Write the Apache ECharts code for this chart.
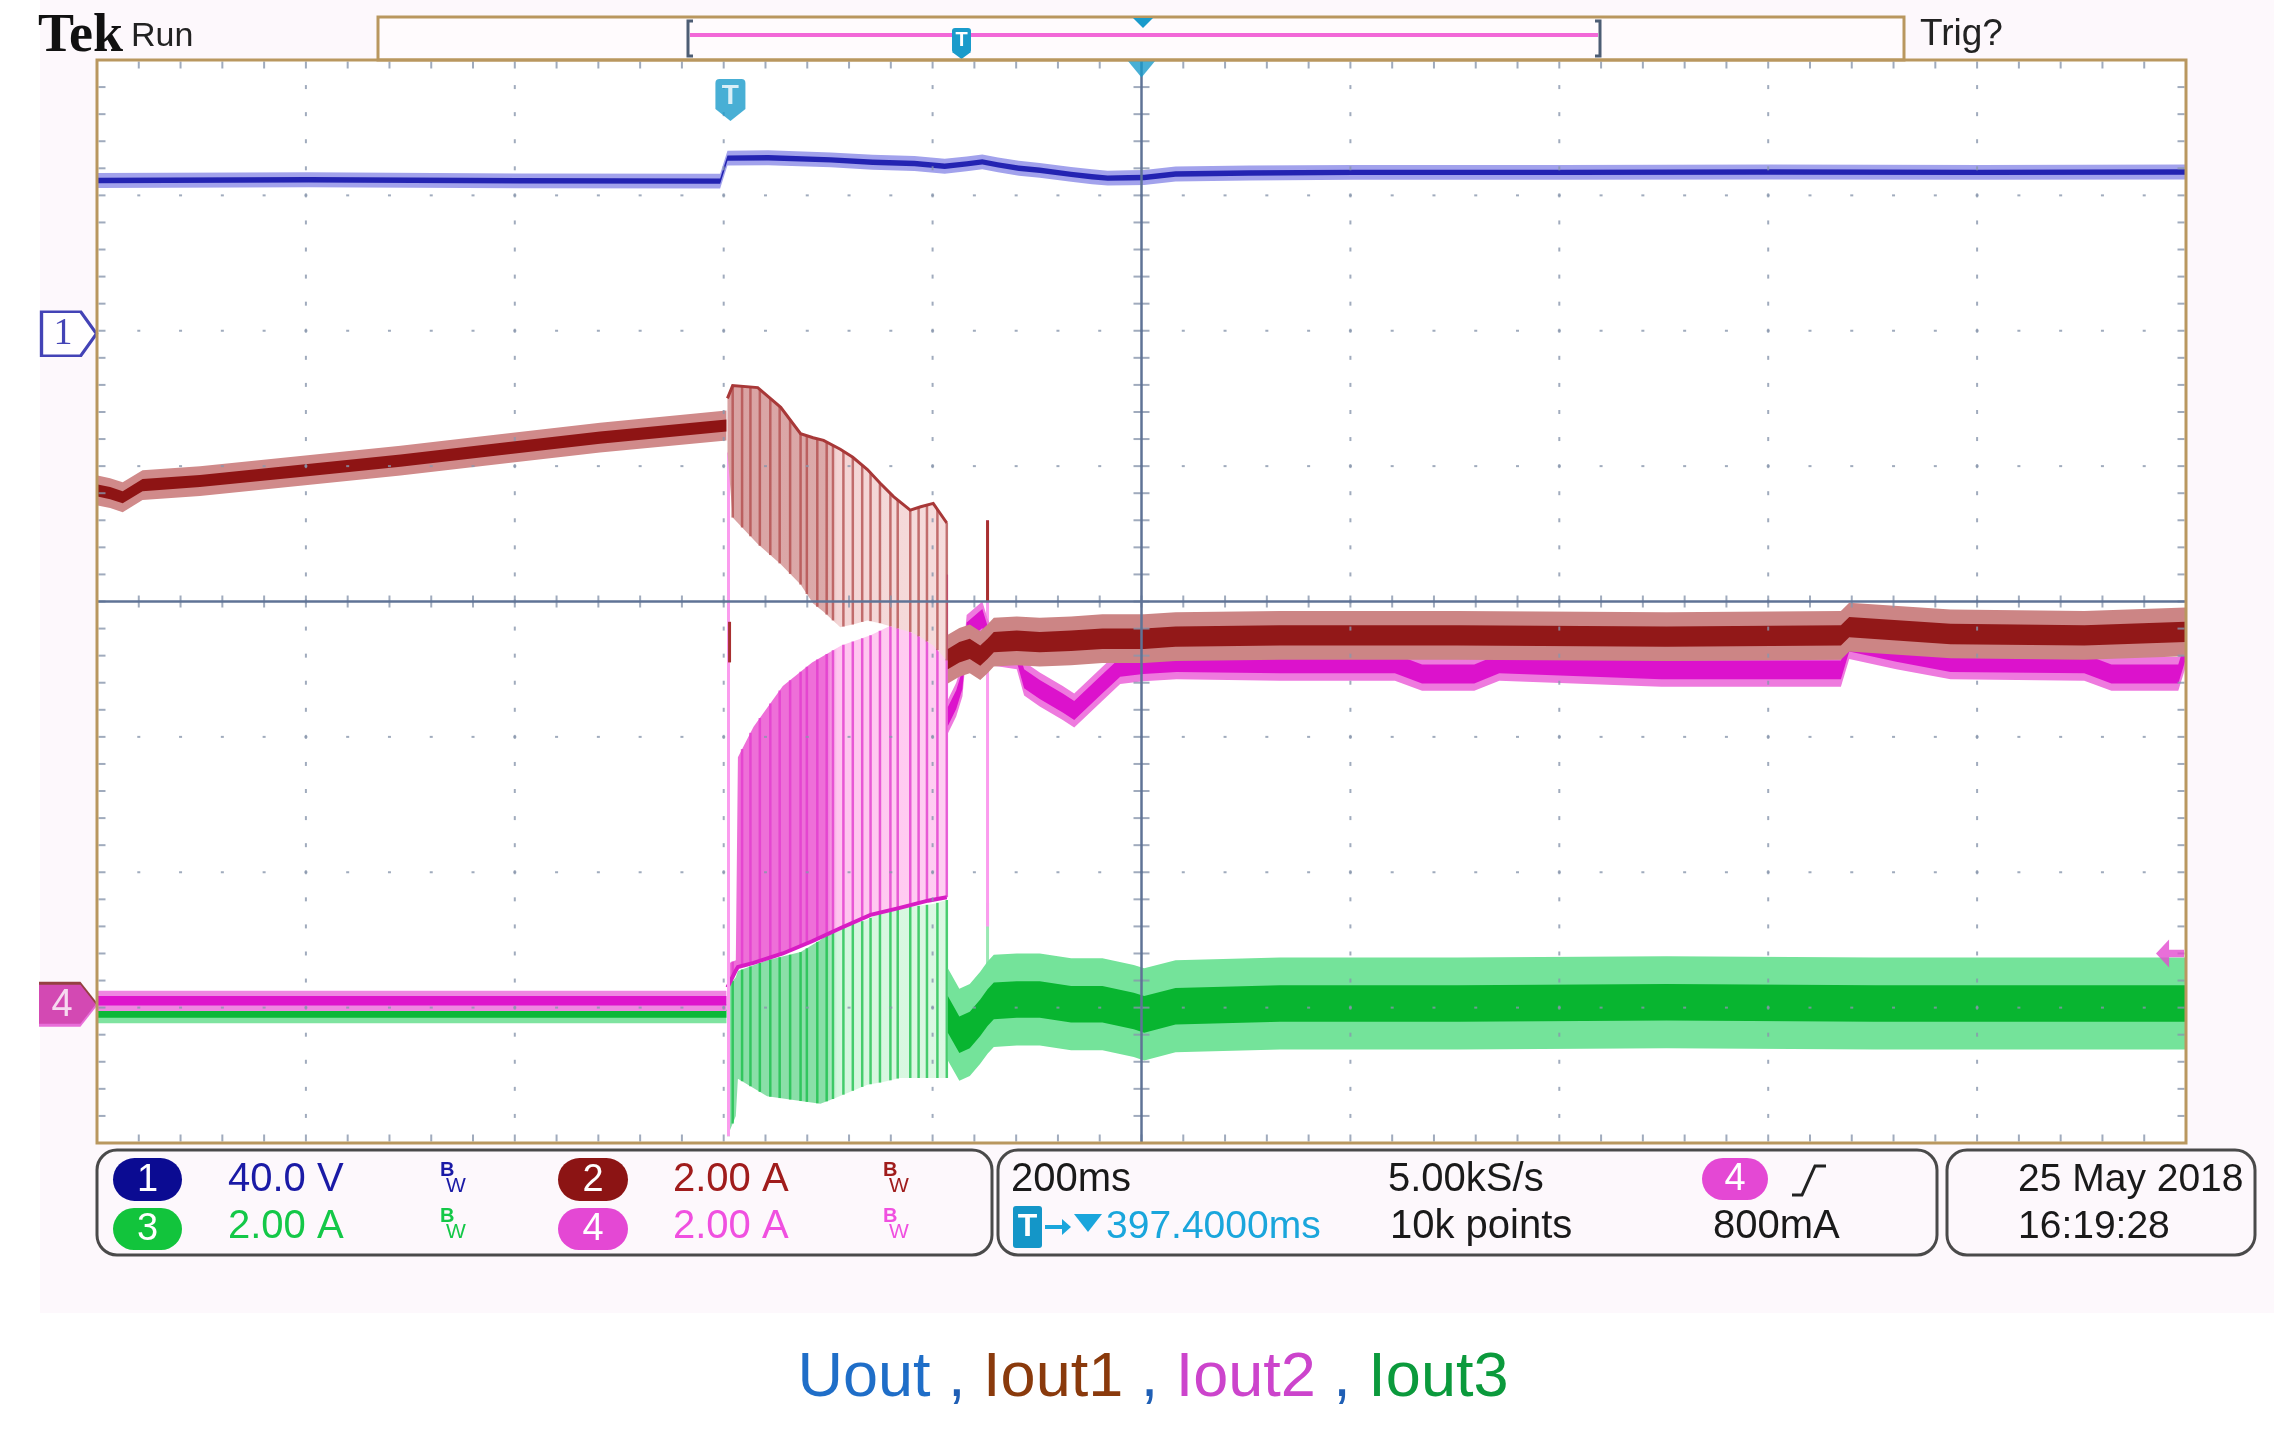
<!DOCTYPE html>
<html><head><meta charset="utf-8">
<script src="https://cdn.jsdelivr.net/npm/echarts@6/dist/echarts.min.js"></script>
<style>html,body{margin:0;padding:0;background:#fff}#c{width:2274px;height:1433px}</style>
</head><body><div id="c"></div><script>
// ---------- screen / channel setup (200 ms/div, trigger at t = 0) ----------
const X_MIN = -602.6, X_MAX = 1397.4, X_DIV = 200, CENTER_T = 397.4;
const Y_MIN = -4, Y_MAX = 4;
const CH = { ch1:{scale:40,pos:2}, ch2:{scale:2,pos:-3}, ch3:{scale:2,pos:-3}, ch4:{scale:2,pos:-3} };
const TRIG_LEVEL = 0.8; // A, ch4

// ---------- CH1  Uout (V) ----------
const ch1T   = [-602,-400,-200,-6,1,40,100,140,180,209,230,245,260,280,300,330,350,365,385,400,430,500,600,800,1000,1200,1397];
const ch1Mid = [44.4,44.6,44.3,44.2,51.0,51.1,50.5,49.8,49.4,48.6,49.3,49.9,49.0,48.0,47.4,46.2,45.5,45.1,45.2,45.3,46.3,46.6,46.8,46.8,46.9,46.8,46.9];
const ch1Noise = [2.2, 0.8];

// ---------- CH2  Iout1 (A) ----------
const ch2PreT   = [-602,-590,-578,-559,-504,-408,-312,-217,-121,0];
const ch2PreMid = [7.64,7.60,7.54,7.72,7.78,7.93,8.08,8.25,8.42,8.60];
const ch2PreNoise = [0.22, 0.09];
const ch2PulseT  = [1,6,30,52,71,83,93,109,121,135,147,160,176,186,198,211];
const ch2PulseHi = [9.0,9.19,9.16,8.87,8.48,8.42,8.38,8.25,8.13,7.95,7.75,7.55,7.35,7.40,7.45,7.16];
const ch2PulseLo = [8.2,7.24,6.85,6.55,6.25,5.97,5.85,5.62,5.66,5.72,5.68,5.62,5.55,5.47,5.35,5.13];
const ch2PostT   = [212,223,233,243,250,256,278,300,330,360,400,430,530,700,900,1067,1075,1172,1300,1397];
const ch2PostMid = [5.15,5.25,5.30,5.20,5.30,5.40,5.42,5.40,5.42,5.45,5.45,5.48,5.50,5.50,5.48,5.50,5.62,5.52,5.50,5.55];
const ch2PostNoise = [0.36, 0.15];
const ch2SpikeT  = [3,250];
const ch2SpikeLo = [5.1,6.0];
const ch2SpikeHi = [5.7,7.2];

// ---------- CH3  Iout3 (A) ----------
const ch3PreT   = [-602,0];
const ch3PreMid = [-0.09,-0.09];
const ch3PreNoise = [0.14, 0.06];
const ch3PulseT  = [1,9,11,39,71,90,102,135,150,166,198,211];
const ch3PulseHi = [0.30,0.45,0.54,0.70,0.82,1.00,1.15,1.30,1.43,1.47,1.53,1.59];
const ch3PulseLo = [-1.90,-1.60,-1.05,-1.31,-1.38,-1.42,-1.35,-1.14,-1.10,-1.04,-1.04,-1.04];
const ch3PostT   = [212,223,233,243,250,256,278,300,330,360,390,400,430,530,700,900,1100,1300,1397];
const ch3PostMid = [-0.10,-0.40,-0.33,-0.15,0.00,0.10,0.12,0.12,0.05,0.05,-0.05,-0.10,0.02,0.06,0.06,0.08,0.06,0.06,0.06];
const ch3PostNoise = [0.68, 0.27];
const ch3SpikeT  = [2,250];
const ch3SpikeLo = [-1.9,0.0];
const ch3SpikeHi = [0.4,1.55];

// ---------- CH4  Iout2 (A) ----------
const ch4PreT   = [-602,0];
const ch4PreMid = [0.10,0.10];
const ch4PreNoise = [0.15, 0.07];
const ch4PulseT  = [1,9,11,26,54,82,110,138,165,193,207,211];
const ch4PulseHi = [0.65,0.70,3.70,4.15,4.75,5.10,5.35,5.50,5.70,6.10,6.30,6.40];
const ch4PulseLo = [0.30,0.55,0.60,0.66,0.80,0.98,1.18,1.37,1.47,1.58,1.62,1.63];
const ch4PostT   = [212,220,226,230,245,250,256,278,285,300,322,333,359,377,399,431,530,640,666,716,740,895,1000,1067,1075,1120,1172,1300,1326,1390,1397];
const ch4PostMid = [4.30,4.55,4.85,5.55,5.75,5.50,5.30,5.25,4.86,4.70,4.50,4.39,4.77,5.03,5.07,5.10,5.08,5.08,4.93,4.93,5.08,4.99,4.99,4.99,5.40,5.25,5.10,5.08,4.93,4.93,5.28];
const ch4PostNoise = [0.25, 0.14];
const ch4SpikeT  = [2,250];
const ch4SpikeLo = [-1.9,1.2];
const ch4SpikeHi = [8.2,7.2];

// switching pulses seen in the transition (ms)
const pulseT = [6,15,23,32,42,51,61,71,77,87,96,102,112,121,130,138,147,157,164,176,184,192,202,211];

// ---------- helpers ----------
const toDiv = (c, v) => v / CH[c].scale + CH[c].pos;
function interp(T, V, t){ for(let i=1;i<T.length;i++){ if(t<=T[i]){ const f=(t-T[i-1])/(T[i]-T[i-1]); return V[i-1]+f*(V[i]-V[i-1]); } } return V[V.length-1]; }
function ribbon(api, c, T, lo, hi){
  const up=[], dn=[];
  for(let i=0;i<T.length;i++){ up.push(api.coord([T[i], toDiv(c,hi[i])])); dn.push(api.coord([T[i], toDiv(c,lo[i])])); }
  return up.concat(dn.reverse());
}
function noiseBand(api, c, T, mid, half){ return ribbon(api, c, T, mid.map(v=>v-half), mid.map(v=>v+half)); }
function edge(api, c, T, V){ return T.map((t,i)=>api.coord([t, toDiv(c,V[i])])); }
function grad(stops){ return new echarts.graphic.LinearGradient(0,0,1,0, stops.map(s=>({offset:s[0], color:s[1]}))); }
function custom(z, fn){ return {type:'custom', coordinateSystem:'cartesian2d', z, silent:true, animation:false, data:[[0,0]], renderItem:(p,api)=>({type:'group', children:fn(api)})}; }
function noiseSeg(api, c, T, mid, noise, halo, core){
  return [{type:'polygon', shape:{points:noiseBand(api,c,T,mid,noise[0])}, style:{fill:halo}},
          {type:'polygon', shape:{points:noiseBand(api,c,T,mid,noise[1])}, style:{fill:core}}];
}
function stripes(api, c, T, lo, hi, color, w){
  return pulseT.map(t=>{ const a=api.coord([t,toDiv(c,interp(T,hi,t))]), b=api.coord([t,toDiv(c,interp(T,lo,t))]);
    return {type:'line', shape:{x1:a[0],y1:a[1],x2:b[0],y2:b[1]}, style:{stroke:color,lineWidth:w}}; });
}
function spikes(api, c, T, lo, hi, color, w){
  return T.map((t,i)=>{ const a=api.coord([t,toDiv(c,hi[i])]), b=api.coord([t,toDiv(c,lo[i])]);
    return {type:'line', shape:{x1:a[0],y1:a[1],x2:b[0],y2:b[1]}, style:{stroke:color,lineWidth:w}}; });
}

// ---------- trace series ----------
const sCh3 = custom(3, api => [
  ...noiseSeg(api,'ch3',ch3PreT,ch3PreMid,ch3PreNoise,'#7fe3a0','#0cb838'),
  {type:'polygon', shape:{points:ribbon(api,'ch3',ch3PulseT,ch3PulseLo,ch3PulseHi)}, style:{fill:grad([[0,'#8adfa8'],[0.45,'#8adfa8'],[0.5,'#d3f6dd'],[1,'#dcf8e3']])}},
  ...stripes(api,'ch3',ch3PulseT,ch3PulseLo,ch3PulseHi,'rgba(20,190,70,0.75)',2.5),
  ...spikes(api,'ch3',ch3SpikeT,ch3SpikeLo,ch3SpikeHi,'#9ae8b4',3),
  ...noiseSeg(api,'ch3',ch3PostT,ch3PostMid,ch3PostNoise,'#74e39a','#08b530')
]);
const sCh4 = custom(4, api => [
  ...noiseSeg(api,'ch4',ch4PreT,ch4PreMid,ch4PreNoise,'#ef86e2','#de14cc'),
  {type:'polygon', shape:{points:ribbon(api,'ch4',ch4PulseT,ch4PulseLo,ch4PulseHi)}, style:{fill:grad([[0,'#ee6fd8'],[0.45,'#ee6fd8'],[0.5,'#ffc4ef'],[1,'#ffcff2']])}},
  ...stripes(api,'ch4',ch4PulseT,ch4PulseLo,ch4PulseHi,'rgba(226,60,206,0.8)',2.5),
  {type:'polyline', shape:{points:edge(api,'ch4',ch4PulseT,ch4PulseLo)}, style:{stroke:'#d81cc4',lineWidth:4,fill:null}},
  ...spikes(api,'ch4',ch4SpikeT,ch4SpikeLo,ch4SpikeHi,'#fb9cee',3),
  ...noiseSeg(api,'ch4',ch4PostT,ch4PostMid,ch4PostNoise,'#ee7ade','#dc12cc')
]);
const sCh2 = custom(5, api => [
  ...noiseSeg(api,'ch2',ch2PreT,ch2PreMid,ch2PreNoise,'#d08a8a','#8e1414'),
  {type:'polygon', shape:{points:ribbon(api,'ch2',ch2PulseT,ch2PulseLo,ch2PulseHi)}, style:{fill:grad([[0,'#d9a2a2'],[0.45,'#dcaaaa'],[0.5,'#f3d4d4'],[1,'#f6dcdc']])}},
  ...stripes(api,'ch2',ch2PulseT,ch2PulseLo,ch2PulseHi,'rgba(176,72,72,0.75)',2.5),
  {type:'polyline', shape:{points:edge(api,'ch2',ch2PulseT,ch2PulseHi)}, style:{stroke:'#a83838',lineWidth:3,fill:null}},
  ...spikes(api,'ch2',ch2SpikeT,ch2SpikeLo,ch2SpikeHi,'#a83030',3),
  ...noiseSeg(api,'ch2',ch2PostT,ch2PostMid,ch2PostNoise,'#cc8585','#921818')
]);
const sCh1 = custom(6, api => noiseSeg(api,'ch1',ch1T,ch1Mid,ch1Noise,'#a2a2ec','#2323b2'));

// ---------- graticule ----------
const dotsV=[], dotsH=[], tL=[], tR=[], tT=[], tB=[], cX=[], cY=[];
for(let i=1;i<10;i++) if(i!==5) for(let j=1;j<40;j++) dotsV.push([X_MIN+i*X_DIV, Y_MIN+j*0.2]);
for(let k=1;k<8;k++) if(k!==4) for(let m=1;m<50;m++) dotsH.push([X_MIN+m*X_DIV/5, Y_MIN+k]);
for(let j=1;j<40;j++){ tL.push([X_MIN,Y_MIN+j*0.2]); tR.push([X_MAX,Y_MIN+j*0.2]); cY.push([CENTER_T,Y_MIN+j*0.2]); }
for(let m=1;m<50;m++){ tT.push([X_MIN+m*X_DIV/5,Y_MAX]); tB.push([X_MIN+m*X_DIV/5,Y_MIN]); cX.push([X_MIN+m*X_DIV/5,0]); }
const GC = '#8896ac';
const dotSeries = (data, size, off) => ({type:'scatter', z:8, silent:true, animation:false, clip:false, symbol:'rect', symbolSize:size, symbolOffset:off, itemStyle:{color:GC}, data});

// ---------- markers ----------
const pent = 'path://M0,0L40,0L56,22.5L40,45L0,45Z';
const markers = [
  {value:[X_MIN,CH.ch2.pos], symbol:pent, symbolSize:[58,42], symbolOffset:[-29,-5], itemStyle:{color:'#7a1212'}},
  {value:[X_MIN,CH.ch4.pos], symbol:pent, symbolSize:[58,42], symbolOffset:[-29,-2], itemStyle:{color:'#e24bcf'},
   label:{show:true, formatter:'4', position:'inside', offset:[-6,0], color:'#fff', fontSize:38, fontFamily:'Liberation Sans'}},
  {value:[X_MIN,CH.ch1.pos], symbol:pent, symbolSize:[55,44], symbolOffset:[-28,3], itemStyle:{color:'#fff', borderColor:'#1414a4', borderWidth:3},
   label:{show:true, formatter:'1', position:'inside', offset:[-6,0], color:'#1414a4', fontSize:38, fontFamily:'Liberation Serif'}},
  {value:[0,Y_MAX], symbol:'path://M4,0H26Q30,0 30,4V30L15,42L0,30V4Q0,0 4,0Z', symbolSize:[30,42], symbolOffset:[4,40], itemStyle:{color:'#1a9bcb'},
   label:{show:true, formatter:'T', position:'inside', offset:[0,-4], color:'#fff', fontSize:28, fontWeight:'bold', fontFamily:'Liberation Sans'}},
  {value:[CENTER_T,Y_MAX], symbol:'triangle', symbolRotate:180, symbolSize:[28,17], symbolOffset:[0,9], itemStyle:{color:'#1a9bcb'}},
  {value:[X_MAX,CH.ch4.pos+TRIG_LEVEL/CH.ch4.scale], symbol:'path://M0,15L14,0L14,11L30,11L30,19L14,19L14,30Z', symbolSize:[28,28], symbolOffset:[-16,0], itemStyle:{color:'#e24bcf'}}
];

// ---------- text / frame graphics ----------
const F = '"Liberation Sans", Arial, sans-serif';
const txt = (x,y,t,color,size,extra) => Object.assign({type:'text', x, y, style:{text:t, fill:color, font:`${size}px ${F}`, textAlign:'left', verticalAlign:'middle', textVerticalAlign:'middle'}}, extra||{});
const badge = (x,y,w,h,color,label) => [
  {type:'rect', shape:{x,y,width:w,height:h,r:h/2}, style:{fill:color}},
  {type:'text', x:x+w/2, y:y+h/2+1, style:{text:label, fill:'#fff', font:`38px ${F}`, textAlign:'center', verticalAlign:'middle', textVerticalAlign:'middle'}}
];
const bw = (x,y,color) => [
  {type:'text', x, y, style:{text:'B', fill:color, font:`bold 20px ${F}`, verticalAlign:'middle', textVerticalAlign:'middle'}},
  {type:'text', x:x+6, y:y+16, style:{text:'W', fill:color, font:`21px ${F}`, verticalAlign:'middle', textVerticalAlign:'middle'}}
];
const R1 = 1180, R2 = 1227;
const graphics = [
  {type:'rect', shape:{x:40,y:0,width:2234,height:1313}, style:{fill:'#fdf8fc'}},
  {type:'rect', shape:{x:97,y:60,width:2089,height:1083}, style:{fill:'#ffffff'}},
  {type:'rect', z:30, shape:{x:97,y:60,width:2089,height:1083}, style:{fill:null, stroke:'#b9975f', lineWidth:3}},
  // record bar
  {type:'rect', shape:{x:378,y:17,width:1526,height:43}, style:{fill:'#fffbfd', stroke:'#b9975f', lineWidth:3}},
  {type:'line', shape:{x1:690,y1:35,x2:1598,y2:35}, style:{stroke:'#f268d8', lineWidth:4}},
  {type:'polyline', shape:{points:[[693,21],[688,21],[688,56],[693,56]]}, style:{stroke:'#4d5d74', lineWidth:3, fill:null}},
  {type:'polyline', shape:{points:[[1595,21],[1600,21],[1600,56],[1595,56]]}, style:{stroke:'#4d5d74', lineWidth:3, fill:null}},
  {type:'rect', shape:{x:952,y:28,width:19,height:25,r:3}, style:{fill:'#1a9bcb'}},
  {type:'polygon', shape:{points:[[952,52],[971,52],[961.5,59]]}, style:{fill:'#1a9bcb'}},
  {type:'text', x:961.5, y:40, style:{text:'T', fill:'#fff', font:`bold 20px ${F}`, textAlign:'center', verticalAlign:'middle', textVerticalAlign:'middle'}},
  {type:'polygon', shape:{points:[[1133,18],[1153,18],[1143,28]]}, style:{fill:'#1a9bcb'}},
  {type:'text', x:38, y:37, style:{text:'Tek', fill:'#111', font:'bold 54px "Liberation Serif", serif', verticalAlign:'middle', textVerticalAlign:'middle'}},
  txt(131,37,'Run','#222',34),
  txt(1920,35,'Trig?','#222',37),
  // panels
  {type:'rect', shape:{x:97,y:1150,width:895,height:105,r:20}, style:{fill:null, stroke:'#4a4a4a', lineWidth:3}},
  {type:'rect', shape:{x:998,y:1150,width:939,height:105,r:20}, style:{fill:null, stroke:'#4a4a4a', lineWidth:3}},
  {type:'rect', shape:{x:1947,y:1150,width:308,height:105,r:20}, style:{fill:null, stroke:'#4a4a4a', lineWidth:3}},
  ...badge(113,1158,69,43,'#0b0b92','1'),
  ...badge(113,1208,69,42,'#12c43c','3'),
  ...badge(558,1158,70,43,'#8c1414','2'),
  ...badge(558,1208,70,42,'#e448d4','4'),
  txt(228,R1,'40.0 V','#1a1aa6',40), txt(673,R1,'2.00 A','#a01c1c',40),
  txt(228,R2,'2.00 A','#14c848',40), txt(673,R2,'2.00 A','#f050e0',40),
  ...bw(440,1170,'#1a1aa6'), ...bw(883,1170,'#a01c1c'), ...bw(440,1216,'#14c848'), ...bw(883,1216,'#f050e0'),
  txt(1011,R1,'200ms','#1a1a1a',40), txt(1388,R1,'5.00kS/s','#1a1a1a',40),
  ...badge(1702,1158,66,42,'#e448d4','4'),
  {type:'polyline', shape:{points:[[1792,1195],[1802,1195],[1815,1166],[1826,1166]]}, style:{stroke:'#222', lineWidth:3, fill:null}},
  {type:'rect', shape:{x:1013,y:1206,width:29,height:42,r:3}, style:{fill:'#1496c8'}},
  {type:'text', x:1027.5, y:R2, style:{text:'T', fill:'#fff', font:`bold 32px ${F}`, textAlign:'center', verticalAlign:'middle', textVerticalAlign:'middle'}},
  {type:'line', shape:{x1:1045,y1:R2,x2:1064,y2:R2}, style:{stroke:'#1aa6dc', lineWidth:4}},
  {type:'polygon', shape:{points:[[1062,R2-8],[1071,R2],[1062,R2+8]]}, style:{fill:'#1aa6dc'}},
  {type:'polygon', shape:{points:[[1074,1214],[1102,1214],[1088,1232]]}, style:{fill:'#1aa6dc'}},
  txt(1106,R2,'397.4000ms','#1aa6dc',39),
  txt(1390,R2,'10k points','#1a1a1a',40), txt(1713,R2,'800mA','#1a1a1a',40),
  txt(2018,R1,'25 May 2018','#1a1a1a',39), txt(2018,R2,'16:19:28','#1a1a1a',39),
  // caption
  {type:'text', x:1153, y:1379, style:{text:'{u|Uout}{c| , }{r|Iout1}{c| , }{m|Iout2}{c| , }{g|Iout3}', textAlign:'center', verticalAlign:'middle', textVerticalAlign:'middle', font:`63px ${F}`,
    rich:{u:{fill:'#1f6ec8', font:`63px ${F}`}, c:{fill:'#1f5fb5', font:`63px ${F}`}, r:{fill:'#8a3a0c', font:`63px ${F}`}, m:{fill:'#cc44cc', font:`63px ${F}`}, g:{fill:'#0b9a3c', font:`63px ${F}`}}}}
];

const chart = echarts.init(document.getElementById('c'), null, {renderer:'canvas', width:2274, height:1433});
chart.setOption({
  animation:false,
  backgroundColor:'#ffffff',
  grid:{left:97, top:60, width:2089, height:1083, show:false},
  xAxis:{type:'value', min:X_MIN, max:X_MAX, show:false},
  yAxis:{type:'value', min:Y_MIN, max:Y_MAX, show:false},
  graphic:{elements:graphics},
  series:[
    sCh3, sCh4, sCh2, sCh1,
    dotSeries(dotsV,[2,4],[0,0]), dotSeries(dotsH,[3,2],[0,0]),
    dotSeries(tL,[7,2],[5,0]), dotSeries(tR,[7,2],[-5,0]), dotSeries(tT,[2,7],[0,5]), dotSeries(tB,[2,7],[0,-5]),
    dotSeries(cX,[2,12],[0,0]), dotSeries(cY,[16,2],[0,0]),
    {type:'line', z:9, silent:true, animation:false, symbol:'none', lineStyle:{color:'#5f7396', width:2.5}, data:[[X_MIN,0],[X_MAX,0]]},
    {type:'line', z:9, silent:true, animation:false, symbol:'none', lineStyle:{color:'#5f7396', width:2.5}, data:[[CENTER_T,Y_MIN],[CENTER_T,Y_MAX]]},
    {type:'scatter', z:12, silent:true, animation:false, clip:false, data:markers}
  ]
});
</script></body></html>
